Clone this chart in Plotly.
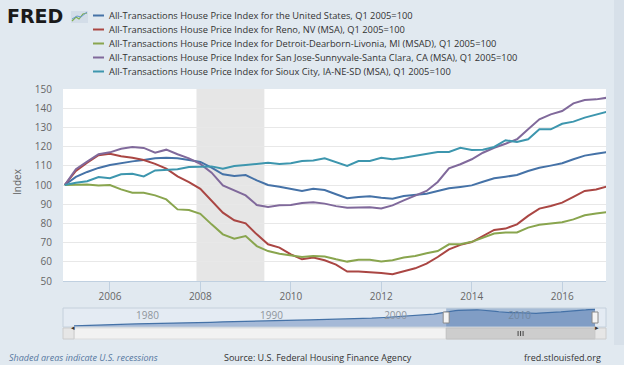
import pandas as pd
import plotly.graph_objects as go

# ---------------- data ----------------
quarters = pd.date_range("2005-01-01", periods=49, freq="QS")

series_names = [
    "All-Transactions House Price Index for the United States, Q1 2005=100",
    "All-Transactions House Price Index for Reno, NV (MSA), Q1 2005=100",
    "All-Transactions House Price Index for Detroit-Dearborn-Livonia, MI (MSAD), Q1 2005=100",
    "All-Transactions House Price Index for San Jose-Sunnyvale-Santa Clara, CA (MSA), Q1 2005=100",
    "All-Transactions House Price Index for Sioux City, IA-NE-SD (MSA), Q1 2005=100",
]
series_colors = ["#4572A7", "#AA4643", "#89A54E", "#80699B", "#3D96AE"]

us = [100, 104.2, 106.8, 108.9, 110.4, 111.5, 112.3, 113.0, 113.9, 114.2, 113.9, 113.0, 112.0,
      109.0, 105.6, 104.7, 105.2, 102.4, 100.0, 99.1, 98.1, 96.9, 98.1, 97.4, 95.2,
      93.1, 93.8, 94.1, 93.4, 92.9, 94.3, 94.8, 95.5, 96.9, 98.3, 99.0, 99.8,
      101.7, 103.5, 104.3, 105.2, 107.3, 109.0, 110.1, 111.3, 113.4, 115.3, 116.3, 117.2]
reno = [100, 107.3, 111.6, 115.5, 116.3, 115.0, 114.2, 113.0, 111.0, 108.5, 104.5, 101.5, 98.0,
        91.7, 85.6, 81.6, 80.0, 74.3, 69.1, 67.4, 63.9, 61.3, 62.2, 60.8, 58.5,
        54.9, 54.9, 54.5, 54.2, 53.5, 54.9, 56.6, 59.0, 62.5, 66.5, 68.8, 70.3,
        73.4, 76.6, 77.3, 79.5, 83.9, 87.7, 89.1, 90.8, 93.8, 96.9, 97.7, 99.3]
detroit = [100, 100.3, 100.3, 99.8, 100.0, 97.7, 96.0, 96.0, 94.6, 92.5, 87.3, 87.0, 85.0,
           79.5, 74.3, 72.0, 73.4, 68.2, 65.6, 64.2, 63.5, 62.5, 63.0, 62.8, 61.3,
           60.1, 61.1, 61.1, 60.1, 60.8, 62.2, 63.0, 64.4, 65.6, 69.1, 69.1, 70.4,
           72.6, 74.7, 75.3, 75.3, 77.8, 79.3, 80.0, 80.6, 82.1, 84.2, 85.1, 85.9]
san_jose = [100, 108.2, 112.2, 116.0, 117.0, 118.9, 119.8, 119.3, 116.8, 118.4, 116.0, 113.9, 111.0,
            106.4, 99.8, 97.2, 94.6, 89.6, 88.5, 89.4, 89.6, 90.6, 91.0, 90.3, 89.0,
            88.2, 88.4, 88.4, 87.8, 89.4, 92.0, 94.3, 96.9, 101.6, 108.7, 110.8, 113.4,
            116.8, 119.4, 121.5, 123.8, 129.0, 134.2, 136.8, 138.5, 142.5, 144.3, 144.6, 145.5]
sioux_city = [100, 101.2, 102.0, 104.2, 103.5, 105.6, 105.9, 104.5, 107.6, 108.0, 108.2, 109.4, 109.6,
              109.7, 108.5, 109.9, 110.4, 111.1, 111.6, 110.9, 111.3, 112.5, 112.8, 113.9, 112.0,
              109.9, 112.5, 112.5, 114.2, 113.4, 114.2, 115.1, 116.3, 117.2, 117.2, 119.4, 118.2,
              118.4, 119.8, 123.3, 122.4, 123.8, 129.0, 129.0, 131.9, 133.0, 135.1, 136.5, 138.2]
series_values = [us, reno, detroit, san_jose, sioux_city]

recession_start = "2007-12-01"
recession_end = "2009-06-01"

# navigator: long-run U.S. index (annual, Q1 2005=100) before the main window
nav_years = pd.date_range("1975-01-01", periods=30, freq="YS")
nav_us_early = [17.8, 19.3, 21.4, 24.3, 27.3, 29.7, 31.8, 32.6, 33.5, 35.0,
                36.8, 39.2, 41.8, 44.2, 46.9, 49.0, 49.9, 51.0, 52.2, 53.7,
                54.9, 56.7, 58.5, 61.1, 64.1, 68.0, 72.7, 77.2, 82.5, 88.4]
nav_tick_years = ["1980-01-01", "1990-01-01", "2000-01-01", "2010-01-01"]
nav_tick_text = ["1980", "1990", "2000", "2010"]

y_ticks = [50, 60, 70, 80, 90, 100, 110, 120, 130, 140, 150]

# ---------------- geometry helpers ----------------
W, H = 624, 365
ML, MR, MT, MB = 63, 18, 89, 26
PW, PH = W - ML - MR, H - MT - MB


def px(x):
    return (x - ML) / PW


def py(y):
    return (H - MB - y) / PH


FONT = "Open Sans"
fig = go.Figure()

for name, vals, col in zip(series_names, series_values, series_colors):
    fig.add_trace(go.Scatter(x=quarters, y=vals, mode="lines", name=name,
                             line=dict(color=col, width=2), xaxis="x", yaxis="y",
                             hoverinfo="skip"))

nav_x = list(nav_years) + list(quarters)
nav_y = nav_us_early + us
fig.add_trace(go.Scatter(x=nav_x, y=nav_y, mode="lines", fill="tozeroy",
                         fillcolor="#a5b9d7", line=dict(color="#4572A7", width=1.2),
                         xaxis="x2", yaxis="y2", hoverinfo="skip", showlegend=False))

shapes = []
# recession band
shapes.append(dict(type="rect", xref="x", yref="y domain", x0=recession_start, x1=recession_end,
                   y0=0, y1=1, fillcolor="#e6e6e6", line=dict(width=0), layer="below"))
# navigator background
shapes.append(dict(type="rect", xref="paper", yref="y2 domain", x0=0, x1=1, y0=0, y1=1,
                   fillcolor="#e4ebf3", line=dict(width=0), layer="below"))
# navigator selected area mask
shapes.append(dict(type="rect", xref="x2", yref="y2 domain", x0=quarters[0], x1=quarters[-1],
                   y0=0, y1=1, fillcolor="rgba(69,114,167,0.38)", line=dict(width=0), layer="above"))
# navigator frame
shapes.append(dict(type="rect", xref="paper", yref="y2 domain", x0=0, x1=1, y0=0, y1=1,
                   line=dict(color="#c4d0dc", width=1), fillcolor="rgba(0,0,0,0)"))
# scrollbar track
shapes.append(dict(type="rect", xref="paper", yref="paper", x0=px(74), x1=px(595), y0=0, y1=py(328),
                   fillcolor="#f2f2f2", line=dict(color="#dddddd", width=1)))
# scrollbar thumb
shapes.append(dict(type="rect", xref="x2", yref="paper", x0=quarters[0], x1=quarters[-1],
                   y0=0, y1=py(328), fillcolor="#cdcdcd", line=dict(color="#c0c0c0", width=1)))
# scrollbar grip (three short vertical strokes)
for off in (-2.5, 0, 2.5):
    shapes.append(dict(type="line", xref="x2", yref="paper", xsizemode="pixel", xanchor=quarters[24],
                       x0=off, x1=off, y0=py(336), y1=py(331), line=dict(color="#444444", width=1)))
# scrollbar buttons
for a, b in [(63, 74), (595, 606)]:
    shapes.append(dict(type="rect", xref="paper", yref="paper", x0=px(a), x1=px(b), y0=0, y1=py(328),
                       fillcolor="#e6e6e6", line=dict(color="#cccccc", width=1)))
# navigator handles
for d in [quarters[0], quarters[-1]]:
    shapes.append(dict(type="rect", xref="x2", yref="paper", xsizemode="pixel", xanchor=d,
                       x0=-3, x1=3, y0=py(323), y1=py(312), fillcolor="#f4f4f4",
                       line=dict(color="#8a8a8a", width=1)))
# legend swatches
legend_rows = [15.5, 29.5, 43.5, 57.5, 71.5]
for yy, col in zip(legend_rows, series_colors):
    shapes.append(dict(type="line", xref="paper", yref="paper", x0=px(93), x1=px(104),
                       y0=py(yy), y1=py(yy), line=dict(color=col, width=2)))
# FRED icon
shapes.append(dict(type="rect", xref="paper", yref="paper", x0=px(71), x1=px(88), y0=py(23), y1=py(11),
                   fillcolor="#d3dde8", line=dict(width=0)))
shapes.append(dict(type="path", xref="paper", yref="paper",
                   path="M %f %f L %f %f L %f %f L %f %f L %f %f" % (
                       px(72), py(21), px(76), py(17), px(79), py(19), px(83), py(14), px(87), py(13)),
                   line=dict(color="#7fb04a", width=1.2)))
shapes.append(dict(type="path", xref="paper", yref="paper",
                   path="M %f %f L %f %f L %f %f L %f %f" % (
                       px(72), py(19), px(77), py(16), px(81), py(17), px(87), py(12)),
                   line=dict(color="#6a9ad0", width=1)))
# right edge strip
shapes.append(dict(type="rect", xref="paper", yref="paper", x0=px(614), x1=px(624), y0=py(345), y1=py(0),
                   fillcolor="#d7e0e9", line=dict(width=0), layer="below"))

annotations = []
annotations.append(dict(text="<b>FRED</b>", x=px(5), y=py(16), xref="paper", yref="paper",
                        xanchor="left", yanchor="middle", showarrow=False,
                        font=dict(family="DejaVu Sans", size=19, color="#1a1a1a")))
for yy, name in zip(legend_rows, series_names):
    annotations.append(dict(text=name, x=px(107), y=py(yy), xref="paper", yref="paper",
                            xanchor="left", yanchor="middle", showarrow=False,
                            font=dict(family=FONT, size=9.3, color="#333333")))
annotations.append(dict(text="Index", x=px(17), y=py(182), xref="paper", yref="paper",
                        textangle=-90, showarrow=False, xanchor="center", yanchor="middle",
                        font=dict(family=FONT, size=10, color="#666666")))
annotations.append(dict(text="<i>Shaded areas indicate U.S. recessions</i>", x=px(7), y=py(357),
                        xref="paper", yref="paper", xanchor="left", yanchor="middle", showarrow=False,
                        font=dict(family=FONT, size=9, color="#5577a0")))
annotations.append(dict(text="Source: U.S. Federal Housing Finance Agency", x=px(222), y=py(357),
                        xref="paper", yref="paper", xanchor="left", yanchor="middle", showarrow=False,
                        font=dict(family=FONT, size=9, color="#333333")))
annotations.append(dict(text="fred.stlouisfed.org", x=px(603), y=py(357),
                        xref="paper", yref="paper", xanchor="right", yanchor="middle", showarrow=False,
                        font=dict(family=FONT, size=9, color="#333333")))
annotations.append(dict(text="◂", x=px(68.5), y=py(333.5), xref="paper", yref="paper",
                        showarrow=False, font=dict(family="DejaVu Sans", size=7, color="#333333")))
annotations.append(dict(text="▸", x=px(600.5), y=py(333.5), xref="paper", yref="paper",
                        showarrow=False, font=dict(family="DejaVu Sans", size=7, color="#333333")))

fig.update_layout(
    width=W, height=H,
    margin=dict(l=ML, r=MR, t=MT, b=MB, pad=0),
    paper_bgcolor="#e1e9f0", plot_bgcolor="#ffffff",
    showlegend=False,
    font=dict(family=FONT, size=10, color="#666666"),
    xaxis=dict(domain=[0, 1], anchor="y", type="date",
               range=["2004-12-18", "2016-12-20"],
               tick0="2006-01-01", dtick="M24", tickformat="%Y",
               ticks="outside", ticklen=10, tickcolor="#C0D0E0",
               ticklabelstandoff=-4,
               showline=True, linecolor="#C0D0E0", linewidth=1,
               showgrid=False, zeroline=False,
               tickfont=dict(family=FONT, size=10, color="#666666")),
    yaxis=dict(domain=[py(281), 1], anchor="x", range=[50, 150],
               tickvals=y_ticks, ticks="outside", ticklen=8, tickcolor="rgba(0,0,0,0)",
               showgrid=True, gridcolor="#e8e8e8", gridwidth=1, zeroline=False,
               showline=False, tickfont=dict(family=FONT, size=10, color="#666666")),
    xaxis2=dict(domain=[0, 1], anchor="y2", type="date",
                range=["1974-02-10", "2017-11-20"],
                tickvals=nav_tick_years, ticktext=nav_tick_text,
                ticklabelposition="inside right", ticks="",
                showgrid=False, zeroline=False, showline=False,
                tickfont=dict(family=FONT, size=10, color="#8e959c")),
    yaxis2=dict(domain=[py(327), py(308)], anchor="x2", range=[11, 125],
                showticklabels=False, showgrid=False, zeroline=False, ticks=""),
    shapes=shapes,
    annotations=annotations,
)

fig.write_html("out.html", config={"displayModeBar": False},
               post_script="document.body.style.margin='0';document.body.style.overflow='hidden';")
